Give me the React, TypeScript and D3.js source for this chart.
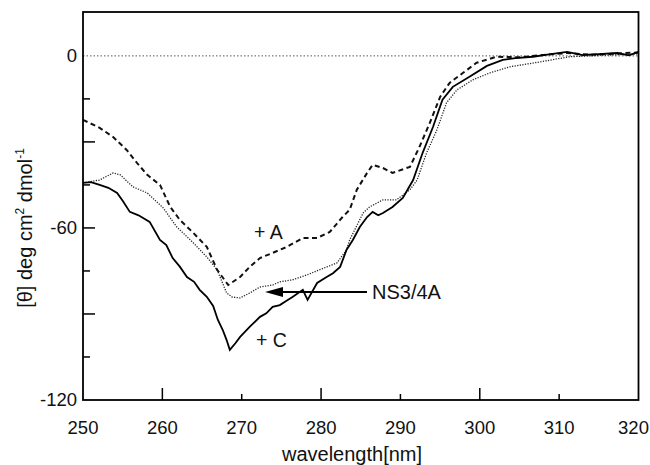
import React from "react";
import * as d3 from "d3";

const xTicks = [250, 260, 270, 280, 290, 300, 310, 320];
const yLabelTicks = [0, -60, -120];
const yMinorTicks = [-15, -30, -45, -75, -90, -105];

// +C (solid)
const seriesC: [number, number][] = [
  [250, -44.3], [251.0, -44.0], [252.1, -45.0], [253.2, -46.0], [254.3, -47.8], [255.0, -50.5],
  [255.9, -54.4], [257.0, -55.6], [258.4, -57.9], [259.7, -64.2], [260.5, -66.0], [261.3, -70.5],
  [262.2, -73.5], [263.1, -77.1], [264.0, -78.8], [264.7, -81.6], [265.6, -84.0], [266.4, -87.2],
  [267.0, -92.1], [267.6, -95.5], [268.1, -99.1], [268.5, -102.5], [269.2, -100.2], [269.8, -98.0],
  [271.0, -94.5], [272.3, -91.0], [273.1, -89.8], [273.9, -87.5], [274.8, -86.9], [275.6, -85.5],
  [276.4, -84.1], [277.7, -81.6], [278.3, -85.1], [279.5, -79.2], [280.7, -77.1], [281.5, -75.8],
  [282.4, -73.6], [283.2, -67.7], [284.0, -64.2], [284.9, -59.6], [285.8, -56.2], [286.5, -54.4],
  [287.2, -55.6], [287.8, -54.8], [289.0, -52.7], [290.3, -49.5], [291.6, -43.3], [292.8, -33.8],
  [294.1, -24.8], [295.3, -15.3], [296.6, -10.8], [298.7, -7.3], [300.9, -3.5], [302.9, -1.4],
  [304.5, -0.8], [306.7, -0.3], [308.5, 0.4], [311.0, 1.4], [313.0, 0.3], [315.0, 0.6],
  [317.3, 1.0], [318.8, 0.2], [320, 1.4],
];

// +A (dashed)
const seriesA: [number, number][] = [
  [250, -22.3], [252.1, -25.1], [253.8, -28.3], [255.5, -32.8], [256.8, -37.3],
  [258.1, -41.5], [259.7, -45.0], [261.0, -52.7], [262.2, -57.2], [263.9, -61.7],
  [265.6, -66.6], [266.9, -74.6], [268.3, -79.9], [269.8, -77.1], [271.0, -73.6],
  [272.3, -70.5], [273.9, -68.7], [275.7, -66.6], [277.7, -63.5], [279.5, -63.5],
  [281.1, -61.4], [282.7, -56.2], [283.6, -53.7], [284.5, -46.7], [285.8, -40.8],
  [286.5, -38.0], [287.8, -39.1], [289.0, -40.8], [291.2, -38.7], [292.4, -31.7],
  [293.7, -23.4], [295.0, -14.3], [296.2, -9.4], [297.9, -5.9], [299.6, -2.4],
  [302.1, -0.3], [305.0, -0.5], [308.0, 0.3], [311.0, 1.0], [314.0, 0.4],
  [317.0, 0.8], [320, 1.2],
];

// NS3/4A (dotted)
const seriesNS: [number, number][] = [
  [250, -44.3], [252.1, -43.3], [253.8, -40.8], [254.7, -41.5], [256.3, -45.7],
  [258.1, -47.8], [260.1, -53.0], [261.8, -59.6], [263.9, -65.2], [265.6, -70.1],
  [266.9, -74.6], [268.1, -82.7], [268.8, -84.1], [269.8, -84.4], [271.0, -82.7],
  [272.3, -80.6], [273.9, -79.9], [274.8, -78.8], [276.4, -78.1], [278.2, -76.4],
  [279.8, -74.6], [282.0, -72.2], [283.2, -67.7], [283.6, -64.2], [285.3, -54.8],
  [286.1, -52.7], [287.8, -50.2], [289.5, -50.2], [291.2, -46.7], [292.1, -43.3],
  [293.3, -33.8], [294.6, -25.8], [295.8, -16.4], [297.1, -11.9], [299.1, -8.4],
  [301.3, -5.9], [303.8, -3.8], [307.6, -2.1], [311.3, -0.3], [316.4, 0.3],
  [320, 0.7],
];

const W = 650;
const H = 465;
const L = 83, R = 638.5, T = 12, B = 400;

export default function App() {
  const x = d3.scaleLinear().domain([250, 320]).range([L, R]);
  const y = d3.scaleLinear().domain([-120, 15.3]).range([B, T]);
  const line = d3
    .line<[number, number]>()
    .x((d) => x(d[0]))
    .y((d) => y(d[1]))
    .curve(d3.curveLinear);

  const font = "'Liberation Sans', Arial, Helvetica, sans-serif";
  const arrowY = 292;

  return (
    <svg
      width={W}
      height={H}
      style={{ position: "absolute", left: 0, top: 0, background: "#fff" }}
      fontFamily={font}
    >
      {/* zero line */}
      <line
        x1={L}
        x2={R}
        y1={y(0)}
        y2={y(0)}
        stroke="#555"
        strokeWidth={1}
        strokeDasharray="1.5,2"
      />
      {/* curves */}
      <path d={line(seriesNS) || ""} fill="none" stroke="#222" strokeWidth={1.3} strokeDasharray="1.2,1.4" />
      <path d={line(seriesA) || ""} fill="none" stroke="#111" strokeWidth={2} strokeDasharray="5,3.5" />
      <path d={line(seriesC) || ""} fill="none" stroke="#000" strokeWidth={1.8} />

      {/* frame */}
      <rect x={L} y={T} width={R - L} height={B - T} fill="none" stroke="#000" strokeWidth={1.8} />

      {/* x ticks */}
      {xTicks.map((t, i) => (
        <g key={"x" + t}>
          {t !== 250 && t !== 320 && (
            <line x1={x(t)} x2={x(t)} y1={B} y2={B - (i % 2 === 1 ? 12 : 6)} stroke="#000" strokeWidth={1.5} />
          )}
          <text
            x={t === 320 ? x(t) - 5 : x(t)}
            y={434}
            fontSize={18.5}
            textAnchor="middle"
            fill="#111"
          >
            {t}
          </text>
        </g>
      ))}
      {/* y ticks */}
      {yMinorTicks.map((t) => (
        <line
          key={"ym" + t}
          x1={L}
          x2={L + (t % 30 === 0 ? 12 : 7)}
          y1={y(t)}
          y2={y(t)}
          stroke="#000"
          strokeWidth={1.5}
        />
      ))}
      {yLabelTicks.map((t) => (
        <g key={"y" + t}>
          {t === -60 && <line x1={L} x2={L + 12} y1={y(t)} y2={y(t)} stroke="#000" strokeWidth={1.5} />}
          <text x={77} y={y(t)} dy="0.35em" fontSize={18.5} textAnchor="end" fill="#111">
            {t}
          </text>
        </g>
      ))}

      {/* axis titles */}
      <text x={352} y={461} fontSize={20} textAnchor="middle" fill="#111">
        wavelength[nm]
      </text>
      <text
        transform={`translate(32, 228) rotate(-90)`}
        fontSize={20}
        textAnchor="middle"
        fill="#111"
      >
        [θ] deg cm
        <tspan fontSize={12} dy={-8}>2</tspan>
        <tspan dy={8}> dmol</tspan>
        <tspan fontSize={12} dy={-8}>-1</tspan>
      </text>

      {/* annotations */}
      <text x={254} y={239} fontSize={19.5} fill="#111">+ A</text>
      <text x={256} y={347} fontSize={19.5} fill="#111">+ C</text>
      <text x={372} y={arrowY + 7} fontSize={20} fill="#111">NS3/4A</text>
      <line x1={367} x2={280} y1={arrowY} y2={arrowY} stroke="#000" strokeWidth={1.8} />
      <path d={`M265,${arrowY} L283,${arrowY - 5} L283,${arrowY + 5} Z`} fill="#000" />
    </svg>
  );
}
